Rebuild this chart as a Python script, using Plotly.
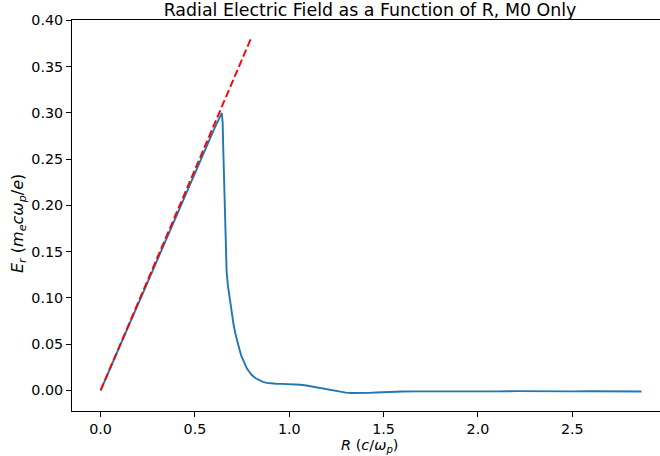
import plotly.graph_objects as go

# Blue simulation curve: radial electric field vs R
R_sim = [0.0, 0.3, 0.55, 0.60, 0.642, 0.647, 0.650, 0.653, 0.656, 0.659, 0.663, 0.668,
         0.675, 0.685, 0.695, 0.705, 0.715, 0.725, 0.735, 0.745, 0.755, 0.765, 0.775,
         0.785, 0.80, 0.82, 0.84, 0.86, 0.88, 0.90, 0.93, 0.96, 1.00, 1.03, 1.06, 1.09,
         1.12, 1.15, 1.18, 1.21, 1.24, 1.27, 1.30, 1.33, 1.36, 1.39, 1.42, 1.46, 1.50,
         1.55, 1.60, 1.675, 1.80, 1.90, 2.00, 2.10, 2.20, 2.30, 2.40, 2.50, 2.60, 2.70,
         2.80, 2.867]
E_sim = [0.0, 0.1416, 0.2596, 0.2817, 0.300, 0.289, 0.262, 0.235, 0.210, 0.185, 0.148,
         0.128, 0.113, 0.097, 0.083, 0.071, 0.061, 0.052, 0.045, 0.038, 0.033, 0.028,
         0.024, 0.021, 0.017, 0.0135, 0.0110, 0.0093, 0.0082, 0.0076, 0.0072, 0.0071,
         0.0070, 0.0068, 0.0062, 0.0053, 0.0042, 0.0030, 0.0018, 0.0006, -0.0005,
         -0.0015, -0.0023, -0.0028, -0.0030, -0.0029, -0.0026, -0.0022, -0.0017,
         -0.0013, -0.0011, -0.0010, -0.0012, -0.0013, -0.0012, -0.0010, -0.0007,
         -0.0010, -0.0012, -0.0010, -0.0009, -0.0010, -0.0007, -0.0012]

# Red dashed reference line (linear theory)
R_lin = [0.0, 0.8]
E_lin = [0.0, 0.382]

x_ticks = [0.0, 0.5, 1.0, 1.5, 2.0, 2.5]
y_ticks = [0.00, 0.05, 0.10, 0.15, 0.20, 0.25, 0.30, 0.35, 0.40]

FONT = "DejaVu Sans"

fig = go.Figure()
fig.add_trace(go.Scatter(x=R_sim, y=E_sim, mode="lines",
                         line=dict(color="#1f77b4", width=1.9), showlegend=False))
fig.add_trace(go.Scatter(x=R_lin, y=E_lin, mode="lines",
                         line=dict(color="#ff0000", width=1.9, dash="7.7px,3.3px"),
                         showlegend=False))

ML, MT, MB = 72, 20, 45
W, H = 660, 456
pw = W - ML
ph = H - MT - MB

fig.update_layout(
    width=W, height=H,
    margin=dict(l=ML, r=0, t=MT, b=MB, pad=0),
    paper_bgcolor="white", plot_bgcolor="white",
    font=dict(family=FONT, size=14, color="black"),
    title=dict(text="Radial Electric Field as a Function of R, M0 Only",
               font=dict(family=FONT, size=17.4, color="black"),
               xref="container", x=370 / W, xanchor="center",
               yref="paper", y=1, yanchor="bottom", pad=dict(b=4)),
    xaxis=dict(range=[-0.1516, 2.965], tickvals=x_ticks,
               ticktext=[f"{v:.1f}" for v in x_ticks],
               showgrid=False, zeroline=False, showline=True, linecolor="black",
               linewidth=1.1, mirror=True, ticks="outside", ticklen=4.9,
               tickwidth=1.1, tickcolor="black",
               tickfont=dict(family=FONT, size=14.3, color="black")),
    yaxis=dict(range=[-0.0222, 0.4005], tickvals=y_ticks,
               ticktext=[f"{v:.2f}" for v in y_ticks],
               showgrid=False, zeroline=False, showline=True, linecolor="black",
               linewidth=1.1, ticks="outside", ticklen=4.9, tickwidth=1.1,
               tickcolor="black",
               tickfont=dict(family=FONT, size=14.3, color="black")),
    annotations=[
        dict(text="<i>R</i> (<i>c</i>/<i>ω<sub>p</sub></i>)",
             xref="paper", yref="paper", x=(370 - ML) / pw, y=(MT + ph - 446) / ph,
             xanchor="center", yanchor="middle", showarrow=False,
             font=dict(family=FONT, size=14.5, color="black")),
        dict(text="<i>E<sub>r</sub></i> (<i>m<sub>e</sub>cω<sub>p</sub></i>/<i>e</i>)",
             xref="paper", yref="paper", x=(18 - ML) / pw, y=(MT + ph - 224) / ph,
             xanchor="center", yanchor="middle", textangle=-90, showarrow=False,
             font=dict(family=FONT, size=16, color="black")),
    ],
)

fig.write_html("out.html")
